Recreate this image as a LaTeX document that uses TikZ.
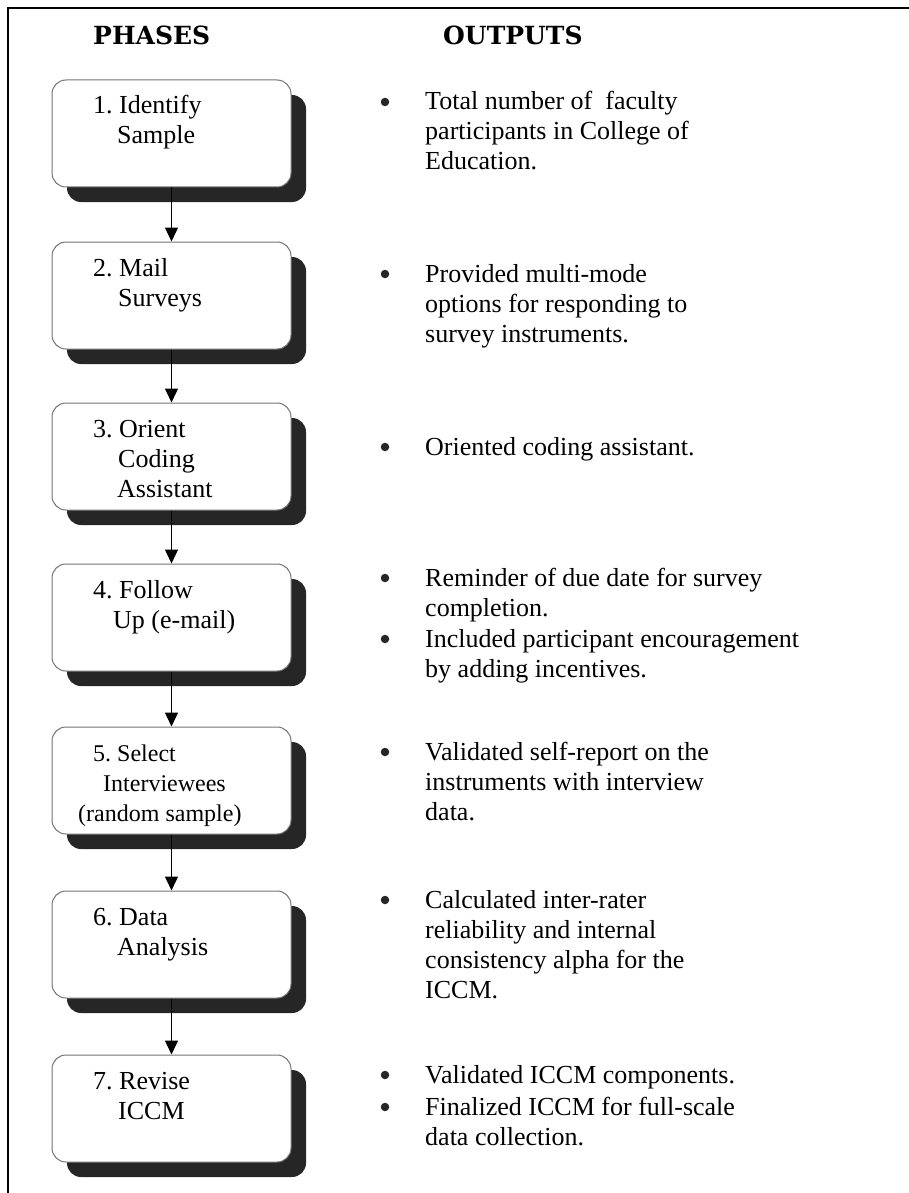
\documentclass[tikz,border=0pt]{standalone}
\usepackage{fontspec}
\setmainfont{Liberation Serif}
\newfontfamily\headfont{DejaVu Serif}
\usetikzlibrary{arrows.meta,shadows}
\frenchspacing

% lines set from the baseline of the first one
\newcommand{\phaselines}[1]{\begin{tabular}[t]{@{}l@{}}#1\end{tabular}}

\tikzset{
  phasebox/.style={draw=black!55, line width=1pt, fill=white, rounded corners=14pt,
    minimum width=239pt, minimum height=107pt,
    drop shadow={shadow xshift=15pt, shadow yshift=-15pt, fill=black!85, opacity=1}},
  phasetext/.style={anchor=base west, inner sep=0pt, font=\fontsize{26}{30}\selectfont},
  outtext/.style={anchor=base west, inner sep=0pt, font=\fontsize{26}{30}\selectfont},
  bulletmark/.style={circle, fill=black!85, inner sep=0pt, minimum size=8.5pt},
  header/.style={anchor=base west, inner sep=0pt, font=\headfont\bfseries\fontsize{25}{28}\selectfont},
  flow/.style={line width=1.3pt, -{Triangle[width=13pt,length=14pt]}}
}

\begin{document}
\begin{tikzpicture}[x=1pt,y=-1pt]
    \useasboundingbox (0,0) rectangle (909,1193);
    \draw[line width=2pt] (909,8) -- (8,8) -- (8,1193);
    % column heads
    \node[header] (hphase) at (93,45) {PHASES};
    \node[header] (hout) at (443,45) {OUTPUTS};
    % phases
    \foreach \n/\y/\txt in {
        1/80/{1. Identify\\\hspace*{24pt}Sample},
        2/242/{2. Mail\\\hspace*{25pt}Surveys},
        3/403/{3. Orient\\\hspace*{25pt}Coding\\\hspace*{24pt}Assistant},
        4/564/{4. Follow\\\hspace*{20pt}Up (e-mail)},
        5/727/{\fontsize{24}{30}\selectfont 5. Select\\\fontsize{24}{30}\selectfont\hspace*{10pt}Interviewees\\\fontsize{24}{30}\selectfont\hspace*{-15pt}(random sample)},
        6/891/{6. Data\\\hspace*{24pt}Analysis},
        7/1055/{7. Revise\\\hspace*{25pt}ICCM}}{
        \node[phasebox] (p\n) at (171.5,\y+53.5) {};
        \node[phasetext] (t\n) at (93,\y+34) {\phaselines{\txt}};
    }
    \foreach \a/\b in {1/2,2/3,3/4,4/5,5/6,6/7}
        \draw[flow] (p\a.south) -- (p\b.north);
    % outputs
    \foreach \n/\y/\txt in {
        1/110/{Total number of \ faculty\\participants in College of\\Education.},
        2/282/{Provided multi-mode\\options for responding to\\survey instruments.},
        3/455/{Oriented coding assistant.},
        4/586/{Reminder of due date for survey\\completion.},
        5/647/{Included participant encouragement\\by adding incentives.},
        6/760/{Validated self-report on the\\instruments with interview\\data.},
        7/908/{Calculated inter-rater\\reliability and internal\\consistency alpha for the\\ICCM.},
        8/1083/{Validated ICCM components.},
        9/1115/{Finalized ICCM for full-scale\\data collection.}}{
        \node[bulletmark] (b\n) at (385,\y-8) {};
        \node[outtext] (o\n) at (425,\y) {\phaselines{\txt}};
    }
\end{tikzpicture}
\end{document}
